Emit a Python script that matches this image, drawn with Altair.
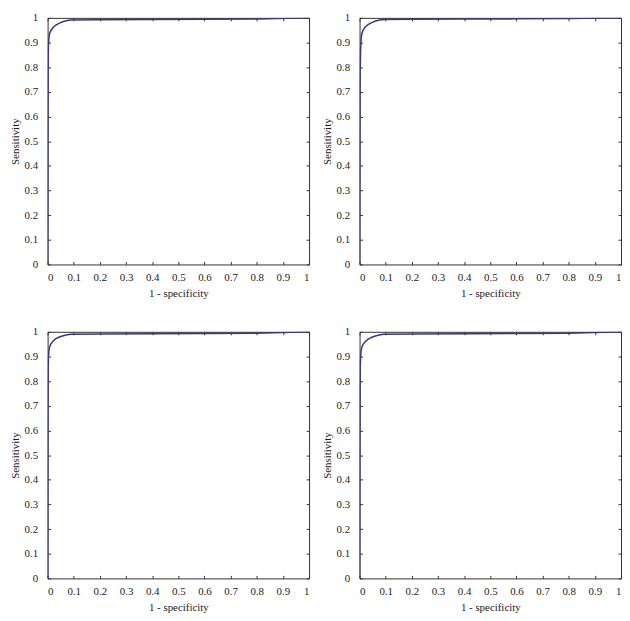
import altair as alt
import pandas as pd

# ROC curves (1 - specificity vs sensitivity), four panels
fpr_a = [0, 0.001, 0.002, 0.003, 0.005, 0.008, 0.012, 0.02, 0.03, 0.045, 0.06, 0.075, 0.09, 0.2, 0.4, 0.6, 0.8, 1.0]
tpr_a = [0, 0.5, 0.8, 0.88, 0.92, 0.938, 0.948, 0.960, 0.970, 0.979, 0.985, 0.989, 0.991, 0.992, 0.993, 0.994, 0.995, 1.0]

fpr_b = [0, 0.001, 0.002, 0.004, 0.006, 0.009, 0.013, 0.021, 0.031, 0.046, 0.061, 0.076, 0.095, 0.2, 0.4, 0.6, 0.8, 1.0]
tpr_b = [0, 0.45, 0.76, 0.87, 0.915, 0.937, 0.949, 0.962, 0.972, 0.981, 0.987, 0.991, 0.993, 0.994, 0.995, 0.996, 0.997, 1.0]

fpr_c = [0, 0.001, 0.002, 0.003, 0.005, 0.008, 0.012, 0.02, 0.03, 0.045, 0.06, 0.075, 0.09, 0.2, 0.4, 0.6, 0.8, 1.0]
tpr_c = [0, 0.55, 0.82, 0.89, 0.925, 0.94, 0.95, 0.961, 0.971, 0.979, 0.984, 0.988, 0.990, 0.991, 0.992, 0.993, 0.994, 1.0]

fpr_d = [0, 0.001, 0.002, 0.003, 0.005, 0.008, 0.012, 0.02, 0.03, 0.045, 0.06, 0.075, 0.09, 0.2, 0.4, 0.6, 0.8, 1.0]
tpr_d = [0, 0.48, 0.78, 0.87, 0.915, 0.935, 0.946, 0.958, 0.968, 0.977, 0.983, 0.987, 0.990, 0.991, 0.992, 0.993, 0.994, 1.0]

tick_values = [0, 0.1, 0.2, 0.3, 0.4, 0.5, 0.6, 0.7, 0.8, 0.9, 1]

x_title = "1 - specificity"
y_title = "Sensitivity"

FONT = "Liberation Serif"
LINE_COLOR = "#37377a"
FRAME = "#333333"
W, H = 264, 249


def panel(fpr, tpr):
    df = pd.DataFrame({"fpr": fpr, "tpr": tpr})
    common = dict(
        domain=False, ticks=True, tickSize=3, offset=-3, tickColor=FRAME,
        values=tick_values, grid=False,
    )
    xs = alt.Scale(domain=[0, 1], nice=False, zero=False)
    ys = alt.Scale(domain=[0, 1], nice=False, zero=False)
    main = alt.Chart(df).mark_line(color=LINE_COLOR, strokeWidth=1.5, clip=True).encode(
        x=alt.X("fpr:Q", scale=xs, title=x_title,
                axis=alt.Axis(orient="bottom", format="~g", labelPadding=7, titlePadding=5, **common)),
        y=alt.Y("tpr:Q", scale=ys, title=y_title,
                axis=alt.Axis(orient="left", format="~g", labelPadding=10, titlePadding=4, **common)),
        order="fpr:Q",
    )
    mirror = alt.Chart(df).mark_line(opacity=0).encode(
        x=alt.X("fpr:Q", scale=xs,
                axis=alt.Axis(orient="top", labels=False, title=None, **common)),
        y=alt.Y("tpr:Q", scale=ys,
                axis=alt.Axis(orient="right", labels=False, title=None, **common)),
    )
    return alt.layer(main, mirror).resolve_axis(x="independent", y="independent").properties(
        width=W, height=H
    )


p1 = panel(fpr_a, tpr_a)
p2 = panel(fpr_b, tpr_b)
p3 = panel(fpr_c, tpr_c)
p4 = panel(fpr_d, tpr_d)

chart = alt.vconcat(
    alt.hconcat(p1, p2, spacing=10),
    alt.hconcat(p3, p4, spacing=10),
    spacing=26,
).properties(padding=0).configure_view(
    stroke=FRAME, strokeWidth=1
).configure_axis(
    labelFont=FONT, titleFont=FONT, labelFontSize=11, titleFontSize=11,
    labelColor="#1a1a1a", titleColor="#1a1a1a", titleFontWeight="normal",
)

chart.save("out.html", embed_options={"renderer": "svg", "actions": False})
